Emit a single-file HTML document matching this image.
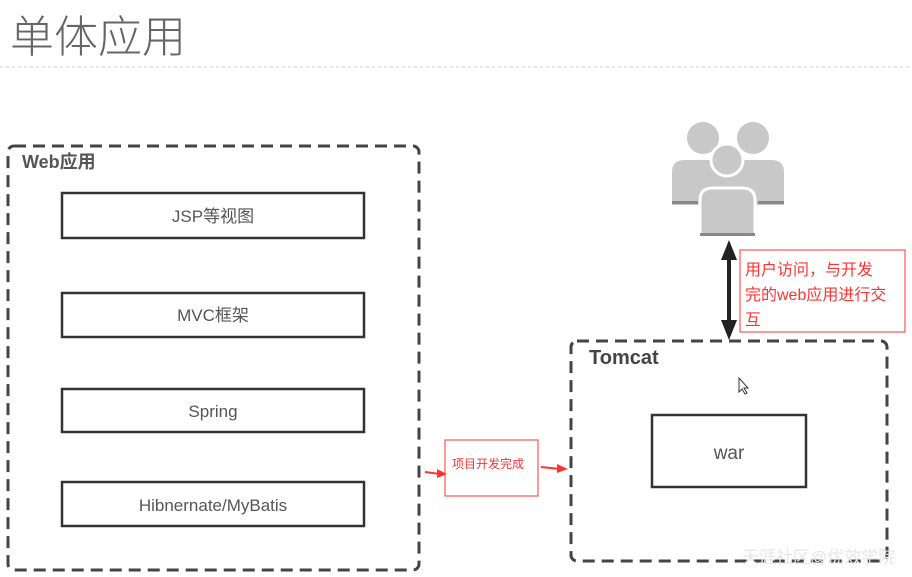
<!DOCTYPE html>
<html><head><meta charset="utf-8"><style>
html,body{margin:0;padding:0;background:#fff;}
svg{display:block;}
text{font-family:"Liberation Sans","Noto Sans CJK SC",sans-serif;}
</style></head><body>
<svg width="912" height="577" viewBox="0 0 912 577" xmlns="http://www.w3.org/2000/svg">
<text x="10" y="52" font-size="44" fill="#666" font-family="'Noto Sans CJK SC',sans-serif" font-weight="300">单体应用</text>
<line x1="0" y1="67" x2="912" y2="67" stroke="#ccc" stroke-width="1" stroke-dasharray="3,3"/>

<rect x="8" y="146" width="411" height="424" rx="6" fill="none" stroke="#444" stroke-width="3" stroke-dasharray="12,7"/>
<text x="22" y="168" font-size="18" font-weight="bold" fill="#555">Web应用</text>
<g fill="none" stroke="#333" stroke-width="2.5">
<rect x="62" y="193" width="302" height="45"/>
<rect x="62" y="293" width="302" height="44"/>
<rect x="62" y="389" width="302" height="43"/>
<rect x="62" y="482" width="302" height="44"/>
</g>
<g font-size="17" fill="#555" text-anchor="middle">
<text x="213" y="222">JSP等视图</text>
<text x="213" y="321">MVC框架</text>
<text x="213" y="417">Spring</text>
<text x="213" y="511">Hibnernate/MyBatis</text>
</g>

<rect x="445" y="440" width="93" height="56" fill="none" stroke="#f33" stroke-width="1"/>
<text x="452" y="468" font-size="12" fill="#f33">项目开发完成</text>
<path d="M425 472 L440 474" stroke="#f33" stroke-width="2"/>
<path d="M437 469 L447 474 L437 478Z" fill="#f33"/>
<path d="M541 467 L560 469" stroke="#f33" stroke-width="2"/>
<path d="M557 464 L568 469 L557 473Z" fill="#f33"/>

<rect x="571" y="341" width="316" height="220" rx="6" fill="none" stroke="#444" stroke-width="3" stroke-dasharray="12,7"/>
<text x="589" y="364" font-size="20" font-weight="bold" fill="#444">Tomcat</text>
<rect x="652" y="415" width="154" height="72" fill="none" stroke="#333" stroke-width="2.5"/>
<text x="729" y="459" font-size="19" fill="#555" text-anchor="middle">war</text>
<path d="M739 378 L739 392 L742 389 L745 394 L747 393 L744 388 L748 388Z" fill="#fff" stroke="#333" stroke-width="1"/>

<g fill="#c8c8c8">
<circle cx="703" cy="138" r="16"/>
<circle cx="753" cy="138" r="16"/>
<path d="M672 205 L672 172 Q672 160 685 160 L722 160 Q735 160 735 172 L735 205Z"/>
<path d="M721 205 L721 172 Q721 160 734 160 L771 160 Q784 160 784 172 L784 205Z"/>
<circle cx="727" cy="160" r="16" stroke="#fff" stroke-width="3"/>
<path d="M700 237 L700 200 Q700 188 713 188 L742 188 Q755 188 755 200 L755 237Z" stroke="#fff" stroke-width="3"/>
</g>
<g fill="#888"><rect x="700" y="233" width="55" height="3"/><rect x="672" y="201" width="26" height="3"/><rect x="758" y="201" width="26" height="3"/></g>

<line x1="729" y1="255" x2="729" y2="325" stroke="#222" stroke-width="4"/>
<path d="M721 260 L729 240 L737 260Z" fill="#222"/>
<path d="M721 320 L729 340 L737 320Z" fill="#222"/>

<rect x="740" y="250" width="165" height="82" fill="#fff" stroke="#f33" stroke-width="1"/>
<g font-size="16" fill="#f33" font-family="'Noto Serif CJK SC',serif">
<text x="745" y="275">用户访问，与开发</text>
<text x="745" y="300">完的web应用进行交</text>
<text x="745" y="325">互</text>
</g>

<text x="742" y="563" font-size="17" fill="#e6e6e6">天涯社区@优效学院</text>
</svg>
</body></html>
